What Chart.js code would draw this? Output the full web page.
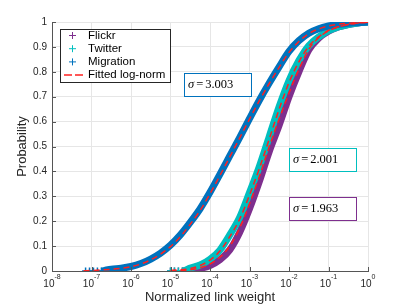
<!DOCTYPE html>
<html>
<head>
<meta charset="utf-8">
<script src="https://cdn.jsdelivr.net/npm/chart.js@4/dist/chart.umd.min.js"></script>
<style>
  html, body { margin: 0; padding: 0; background: #fff; }
  #wrap { width: 407px; height: 305px; }
</style>
</head>
<body>
<div id="wrap"><canvas id="grafico" width="407" height="305"></canvas></div>
<script>
// Eixos
const xTickExps = [-8, -7, -6, -5, -4, -3, -2, -1, 0];
const yTicks = [0, 0.1, 0.2, 0.3, 0.4, 0.5, 0.6, 0.7, 0.8, 0.9, 1];
const yTickLabels = ['0', '0.1', '0.2', '0.3', '0.4', '0.5', '0.6', '0.7', '0.8', '0.9', '1'];

// Séries (x em log10)
const flickrLogX = [-5.0, -4.9, -4.8, -4.7, -4.5, -4.25, -4.0, -3.75, -3.5, -3.25, -3.0, -2.75, -2.5, -2.25, -2.0, -1.75, -1.5, -1.25, -1.0, -0.75, -0.5, -0.25, 0];
const flickrY    = [0, 0, 0, 0, 0.003, 0.010, 0.022, 0.045, 0.085, 0.155, 0.25, 0.36, 0.48, 0.585, 0.7, 0.8, 0.888, 0.935, 0.963, 0.98, 0.99, 0.996, 1.0];

const twitterLogX = [-5.0, -4.9, -4.8, -4.7, -4.5, -4.25, -4.0, -3.75, -3.5, -3.25, -3.0, -2.75, -2.5, -2.25, -2.0, -1.75, -1.5, -1.25, -1.0, -0.75, -0.5, -0.25, 0];
const twitterY    = [0, 0, 0, 0, 0.012, 0.024, 0.047, 0.084, 0.145, 0.215, 0.315, 0.42, 0.54, 0.66, 0.765, 0.845, 0.905, 0.94, 0.965, 0.98, 0.99, 0.996, 1.0];

const migrationLogX = [-7.15, -7.05, -6.95, -6.85, -6.75, -6.65, -6.5, -6.25, -6.0, -5.75, -5.5, -5.25, -5.0, -4.75, -4.5, -4.25, -4.0, -3.75, -3.5, -3.25, -3.0, -2.75, -2.5, -2.25, -2.0, -1.75, -1.5, -1.25, -1.0, -0.75, -0.5, -0.25, 0];
const migrationY    = [0, 0, 0, 0, 0, 0.003, 0.007, 0.011, 0.018, 0.03, 0.048, 0.072, 0.104, 0.145, 0.195, 0.25, 0.316, 0.388, 0.462, 0.536, 0.612, 0.686, 0.755, 0.82, 0.882, 0.925, 0.955, 0.973, 0.984, 0.991, 0.995, 0.998, 1.0];

// Ajustes log-normais (linhas vermelhas tracejadas)
const fitFlickrLogX = [-5.0, -4.5, -4.25, -4.0, -3.75, -3.5, -3.25, -3.0, -2.75, -2.5, -2.25, -2.0, -1.75, -1.5, -1.25, -1.0, -0.75, -0.5, -0.25, 0];
const fitFlickrY    = [0.001, 0.005, 0.013, 0.028, 0.055, 0.1, 0.172, 0.27, 0.38, 0.5, 0.61, 0.715, 0.81, 0.89, 0.937, 0.964, 0.98, 0.99, 0.996, 0.999];
const fitTwitterLogX = [-5.0, -4.5, -4.25, -4.0, -3.75, -3.5, -3.25, -3.0, -2.75, -2.5, -2.25, -2.0, -1.75, -1.5, -1.25, -1.0, -0.75, -0.5, -0.25, 0];
const fitTwitterY    = [0.002, 0.01, 0.022, 0.044, 0.08, 0.138, 0.208, 0.305, 0.412, 0.53, 0.65, 0.757, 0.84, 0.902, 0.94, 0.966, 0.981, 0.99, 0.996, 0.999];
const fitMigrationLogX = [-7.2, -7.0, -6.75, -6.5, -6.25, -6.0, -5.75, -5.5, -5.25, -5.0, -4.75, -4.5, -4.25, -4.0, -3.75, -3.5, -3.25, -3.0, -2.75, -2.5, -2.25, -2.0, -1.75, -1.5, -1.25, -1.0, -0.75, -0.5, -0.25, 0];
const fitMigrationY    = [0.001, 0.002, 0.004, 0.007, 0.011, 0.017, 0.028, 0.045, 0.068, 0.098, 0.138, 0.188, 0.243, 0.31, 0.383, 0.458, 0.534, 0.61, 0.684, 0.753, 0.818, 0.878, 0.922, 0.953, 0.972, 0.984, 0.991, 0.995, 0.998, 0.999];

const sigmas = ['3.003', '2.001', '1.963'];

const corFlickr = '#7E2F8E';
const corTwitter = '#00BFBF';
const corMigration = '#0072BD';
const corFit = '#FF2020';

function pontos(logX, ys) {
  return logX.map((e, i) => ({ x: Math.pow(10, e), y: ys[i] }));
}

function serie(label, logX, ys, cor, ordem) {
  return {
    label: label,
    data: pontos(logX, ys),
    borderColor: cor,
    backgroundColor: cor,
    borderWidth: 7,
    cubicInterpolationMode: 'monotone',
    pointStyle: 'cross',
    pointRadius: ctx => (ctx.raw && ctx.raw.y === 0 ? 3.5 : 0),
    pointBorderWidth: 1.5,
    pointBorderColor: cor,
    segment: {
      borderColor: ctx => (ctx.p0.parsed.y === 0 && ctx.p1.parsed.y === 0 ? 'rgba(0,0,0,0)' : undefined)
    },
    order: ordem
  };
}

function ajuste(logX, ys) {
  return {
    label: 'Fitted log-norm',
    data: pontos(logX, ys),
    borderColor: corFit,
    borderWidth: 1.5,
    borderDash: [6, 4],
    cubicInterpolationMode: 'monotone',
    pointRadius: 0,
    order: 0
  };
}

// Legenda, rótulos e caixas de anotação
const desenhos = {
  id: 'desenhos',
  afterDraw(chart) {
    const { ctx, chartArea: a, scales: { x, y } } = chart;
    ctx.save();

    // marcas internas dos eixos
    ctx.strokeStyle = '#555';
    ctx.lineWidth = 1;
    yTicks.forEach(v => {
      const py = Math.round(y.getPixelForValue(v)) + 0.5;
      ctx.beginPath(); ctx.moveTo(a.left, py); ctx.lineTo(a.left + 4, py); ctx.stroke();
    });
    xTickExps.forEach(e => {
      const px = Math.round(x.getPixelForValue(Math.pow(10, e))) + 0.5;
      ctx.beginPath(); ctx.moveTo(px, a.bottom); ctx.lineTo(px, a.bottom - 4); ctx.stroke();
    });

    // rótulos do eixo y
    ctx.fillStyle = '#262626';
    ctx.font = '10px "Liberation Sans", Arial, sans-serif';
    ctx.textAlign = 'right';
    ctx.textBaseline = 'middle';
    yTicks.forEach((v, i) => ctx.fillText(yTickLabels[i], a.left - 5, y.getPixelForValue(v)));

    // rótulos do eixo x: 10 com expoente
    ctx.textAlign = 'left';
    xTickExps.forEach(e => {
      const px = x.getPixelForValue(Math.pow(10, e));
      ctx.font = '10px "Liberation Sans", Arial, sans-serif';
      const wb = ctx.measureText('10').width;
      ctx.font = '7px "Liberation Sans", Arial, sans-serif';
      const we = ctx.measureText(String(e)).width;
      const x0 = px - (wb + we) / 2;
      ctx.font = '10px "Liberation Sans", Arial, sans-serif';
      ctx.fillText('10', x0, a.bottom + 13);
      ctx.font = '7px "Liberation Sans", Arial, sans-serif';
      ctx.fillText(String(e), x0 + wb, a.bottom + 6);
    });

    // títulos dos eixos
    ctx.font = '13px "Liberation Sans", Arial, sans-serif';
    ctx.textAlign = 'center';
    ctx.fillText('Normalized link weight', (a.left + a.right) / 2, a.bottom + 26);
    ctx.save();
    ctx.translate(22, (a.top + a.bottom) / 2);
    ctx.rotate(-Math.PI / 2);
    ctx.fillText('Probability', 0, 0);
    ctx.restore();

    // legenda
    const lx = a.left + 8, ly = a.top + 7;
    ctx.fillStyle = '#fff';
    ctx.fillRect(lx, ly, 110, 53);
    ctx.strokeStyle = '#262626';
    ctx.strokeRect(lx + 0.5, ly + 0.5, 110, 53);
    const itens = [['Flickr', corFlickr], ['Twitter', corTwitter], ['Migration', corMigration], ['Fitted log-norm', null]];
    ctx.font = '11.5px "Liberation Sans", Arial, sans-serif';
    ctx.textAlign = 'left';
    itens.forEach((it, i) => {
      const cy = ly + 6.5 + i * 13.2;
      if (it[1]) {
        ctx.strokeStyle = it[1];
        ctx.lineWidth = 1;
        ctx.setLineDash([]);
        ctx.beginPath();
        ctx.moveTo(lx + 12.5, cy - 3.5); ctx.lineTo(lx + 12.5, cy + 3.5);
        ctx.moveTo(lx + 9, cy); ctx.lineTo(lx + 16, cy);
        ctx.stroke();
      } else {
        ctx.strokeStyle = corFit;
        ctx.lineWidth = 1.5;
        ctx.setLineDash([8, 3]);
        ctx.beginPath(); ctx.moveTo(lx + 4, cy); ctx.lineTo(lx + 24, cy); ctx.stroke();
        ctx.setLineDash([]);
      }
      ctx.fillStyle = '#000';
      ctx.fillText(it[0], lx + 28, cy);
    });

    // caixas sigma
    const caixas = [
      [a.left + 132, a.top + 51, corMigration, sigmas[0]],
      [a.left + 237, a.top + 126, corTwitter, sigmas[1]],
      [a.left + 237, a.top + 175, corFlickr, sigmas[2]]
    ];
    ctx.lineWidth = 1;
    caixas.forEach(([bx, by, cor, s]) => {
      ctx.fillStyle = '#fff';
      ctx.fillRect(bx, by, 67, 23);
      ctx.strokeStyle = cor;
      ctx.strokeRect(bx + 0.5, by + 0.5, 67, 23);
      ctx.fillStyle = '#000';
      const cy = by + 12;
      let tx = bx + 4;
      ctx.font = 'italic 12.5px "Liberation Serif", "Times New Roman", serif';
      ctx.fillText('σ', tx, cy);
      tx += ctx.measureText('σ').width + 2;
      ctx.font = '12.5px "Liberation Serif", "Times New Roman", serif';
      ctx.fillText('=', tx, cy);
      tx += ctx.measureText('=').width + 2;
      ctx.fillText(s, tx, cy);
    });

    ctx.restore();
  }
};

new Chart(document.getElementById('grafico').getContext('2d'), {
  type: 'line',
  data: {
    datasets: [
      ajuste(fitMigrationLogX, fitMigrationY),
      ajuste(fitTwitterLogX, fitTwitterY),
      ajuste(fitFlickrLogX, fitFlickrY),
      serie('Migration', migrationLogX, migrationY, corMigration, 1),
      serie('Twitter', twitterLogX, twitterY, corTwitter, 2),
      serie('Flickr', flickrLogX, flickrY, corFlickr, 3)
    ]
  },
  options: {
    responsive: false,
    animation: false,
    layout: { padding: { left: 52, right: 39, top: 22, bottom: 34 } },
    plugins: { legend: { display: false }, tooltip: { enabled: false } },
    scales: {
      x: {
        type: 'logarithmic',
        min: 1e-8,
        max: 1,
        afterBuildTicks: s => { s.ticks = xTickExps.map(e => ({ value: Math.pow(10, e) })); },
        ticks: { display: false },
        grid: { color: '#e6e6e6', drawTicks: false },
        border: { display: true, color: '#555', width: 1 }
      },
      y: {
        type: 'linear',
        min: 0,
        max: 1,
        afterBuildTicks: s => { s.ticks = yTicks.map(v => ({ value: v })); },
        ticks: { display: false },
        grid: { color: '#e6e6e6', drawTicks: false },
        border: { display: true, color: '#555', width: 1 }
      }
    }
  },
  plugins: [desenhos]
});
</script>
</body>
</html>
